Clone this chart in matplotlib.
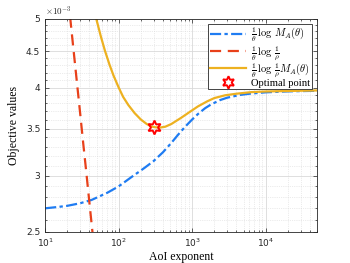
import numpy as np
import matplotlib
matplotlib.use('Agg')
import matplotlib.pyplot as plt
from matplotlib.ticker import FixedLocator, FuncFormatter, NullFormatter

plt.rcParams['mathtext.fontset'] = 'cm'

# datos (valores en unidades de 1e-3)
theta_blue = [10, 15, 20, 30, 43, 70, 100, 150, 225, 300, 400, 520, 650,
              800, 1000, 1200, 1500, 1800, 2400, 3000, 4500, 6300, 10000,
              20000, 50000]
blue = [2.70, 2.712, 2.722, 2.745, 2.775, 2.84, 2.90, 2.99, 3.08, 3.15,
        3.24, 3.34, 3.435, 3.52, 3.605, 3.67, 3.74, 3.785, 3.84, 3.87, 3.905,
        3.922, 3.938, 3.95, 3.958]

theta_red = [20, 22, 24, 26, 28, 30, 33, 36, 40, 44, 46]
red = [5.50, 5.00, 4.58, 4.23, 3.93, 3.67, 3.33, 3.06, 2.75, 2.50, 2.39]

theta_yel = [46, 50, 57, 65, 75, 85, 100, 115, 135, 165, 200, 240, 280, 320,
             370, 430, 520, 700, 900, 1200, 1600, 2000, 2800, 4000, 6300,
             10000, 20000, 50000]
yel = [5.17, 4.985, 4.73, 4.51, 4.31, 4.16, 4.00, 3.88, 3.78, 3.68, 3.605,
       3.553, 3.523, 3.514, 3.512, 3.521, 3.552, 3.622, 3.687, 3.762, 3.824,
       3.865, 3.90, 3.92, 3.94, 3.949, 3.955, 3.962]

theta_opt = [306]
opt = [3.515]

ytick_vals = [2.5, 3, 3.5, 4, 4.5, 5]

fig = plt.figure(figsize=(3.5, 2.63), dpi=100)
ax = fig.add_axes([0.129, 0.118, 0.777, 0.81])

s = 1e-3
ax.plot(theta_blue, np.array(blue) * s, color='#1f7cf2', lw=1.6,
        linestyle=(0, (5, 1.5, 1.5, 1.5)),
        label=r'$\frac{1}{\theta}\,\log\,M_A(\theta)$')
ax.plot(theta_red, np.array(red) * s, color='#e8401a', lw=1.6,
        linestyle=(0, (5, 3)),
        label=r'$\frac{1}{\theta}\,\log\,\frac{1}{\rho}$')
ax.plot(theta_yel, np.array(yel) * s, color='#edb120', lw=1.6,
        label=r'$\frac{1}{\theta}\,\log\,\frac{1}{\rho}M_A(\theta)$')
ax.plot(theta_opt, np.array(opt) * s, linestyle='none', marker=(6, 1, 0),
        markersize=10, markerfacecolor='none', markeredgecolor='#ff0000',
        markeredgewidth=1.4, label='Optimal point')

ax.set_xscale('log')
ax.set_yscale('log')
ax.set_xlim(10, 5e4)
ax.set_ylim(2.5e-3, 5e-3)

ax.yaxis.set_major_locator(FixedLocator([v * s for v in ytick_vals]))
ax.yaxis.set_major_formatter(FuncFormatter(lambda v, p: '%g' % round(v / s, 2)))
ax.yaxis.set_minor_locator(FixedLocator([v * s for v in np.arange(2.5, 5.0, 0.1)]))
ax.yaxis.set_minor_formatter(NullFormatter())

ax.grid(True, which='major', color='#d9d9d9', lw=0.6)
ax.grid(True, which='minor', color='#d9d9d9', lw=0.5, linestyle=':')
ax.tick_params(which='both', direction='in', top=True, right=True,
               labelsize=6.5, colors='#262626', width=0.5)
ax.tick_params(which='major', length=3)
ax.tick_params(which='minor', length=1.5)
for sp in ax.spines.values():
    sp.set_color('#262626')
    sp.set_linewidth(0.6)

ax.text(0.0, 1.005, r'$\times10^{-3}$', transform=ax.transAxes, fontsize=6.5,
        color='#262626', va='bottom', ha='left', family='DejaVu Sans')

ax.set_xlabel('AoI exponent', family='Liberation Serif', fontsize=8.5, labelpad=1)
ax.set_ylabel('Objective values', family='Liberation Serif', fontsize=8.5, labelpad=4)

leg = ax.legend(loc='upper right', prop={'family': 'Liberation Serif', 'size': 7.6},
                fancybox=False, edgecolor='#262626', framealpha=1,
                handlelength=3.4, borderpad=0.15, labelspacing=-0.05,
                handletextpad=0.5, borderaxespad=0.5, markerscale=0.9)
leg.get_frame().set_linewidth(0.6)

fig.savefig('out.png', dpi=100)
